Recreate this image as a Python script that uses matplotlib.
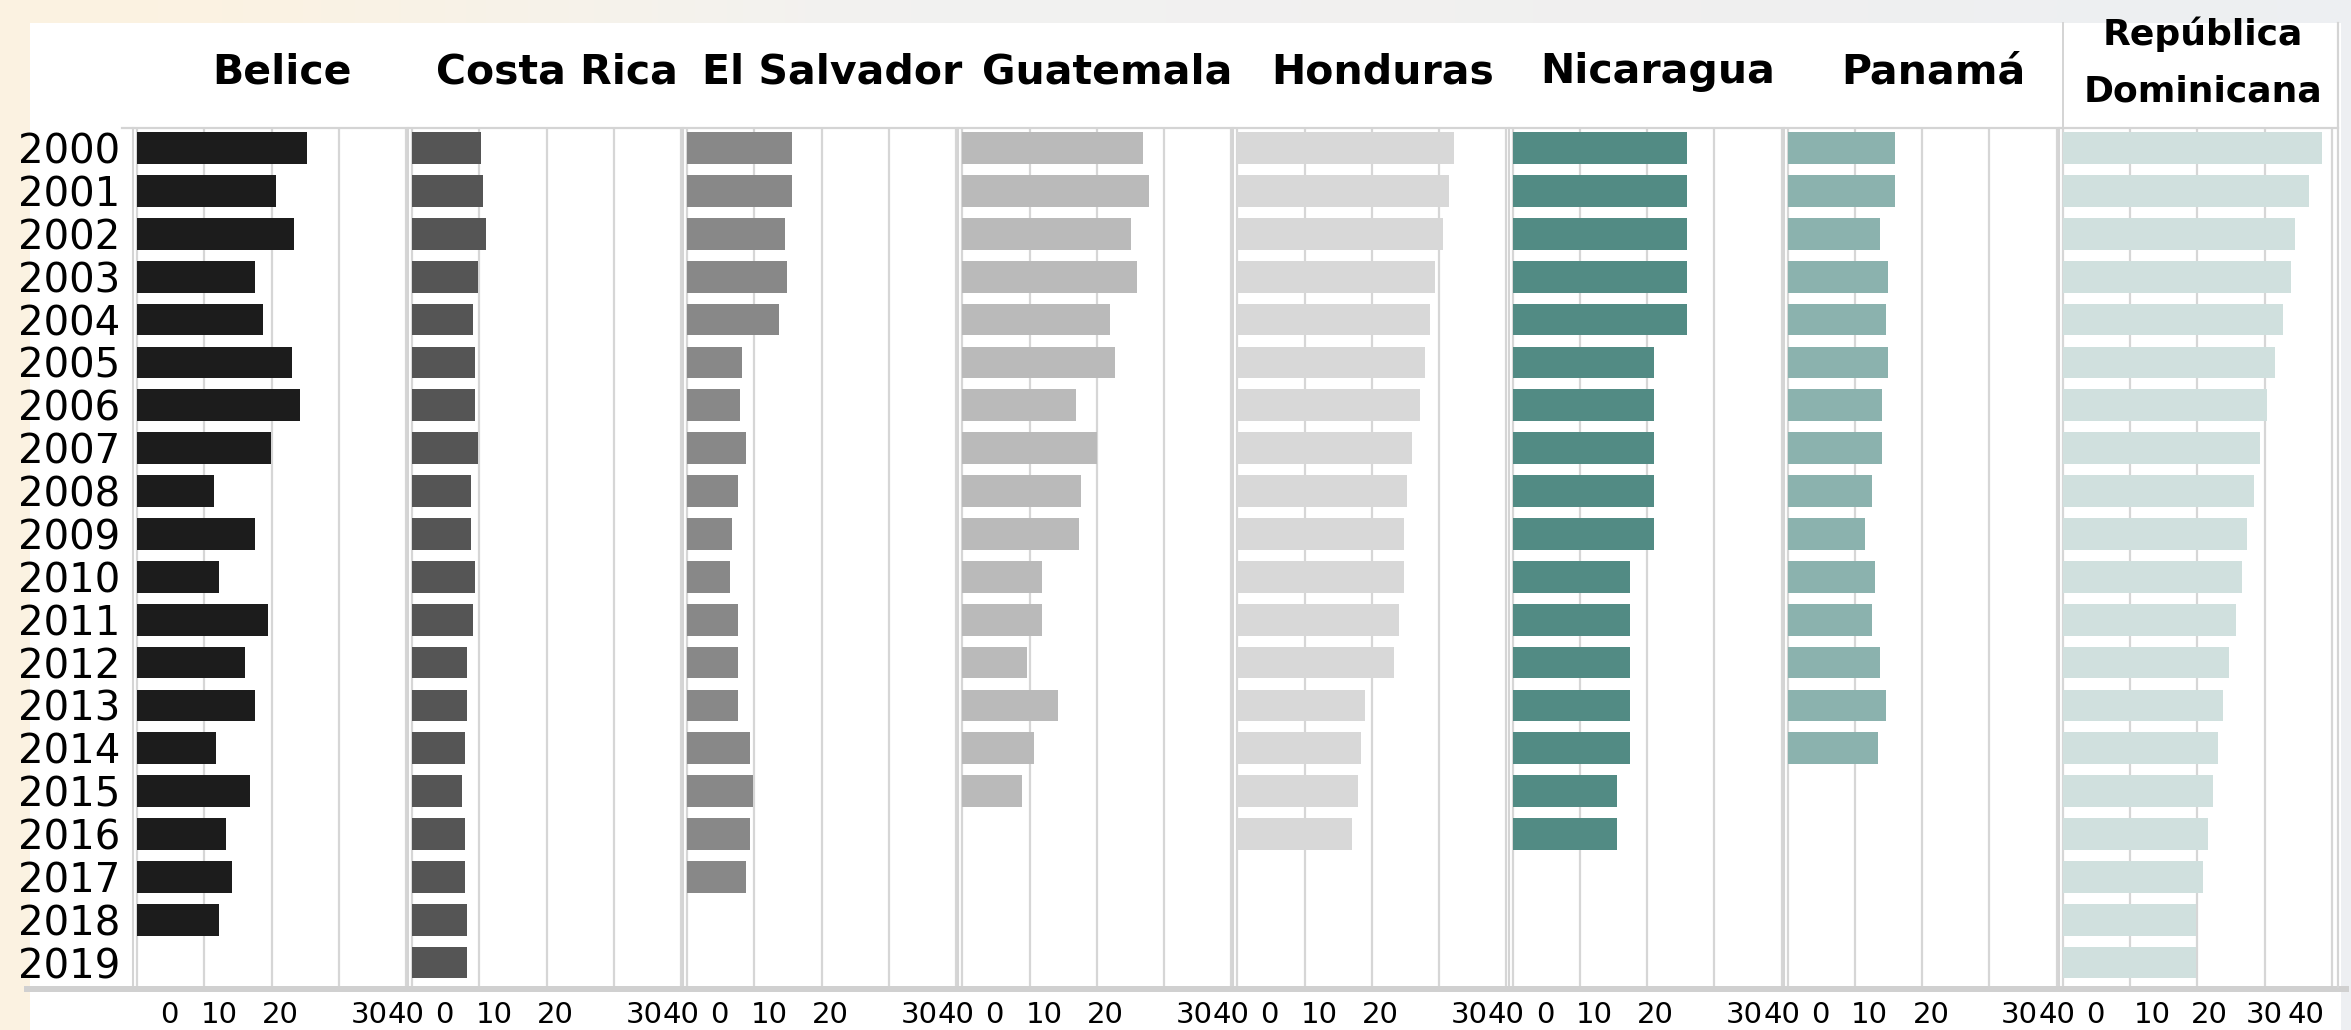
import numpy as np
import matplotlib.pyplot as plt
from matplotlib.lines import Line2D
from matplotlib.patches import Rectangle
from matplotlib.transforms import blended_transform_factory

years = [str(y) for y in range(2000, 2020)]
countries = ['Belice', 'Costa Rica', 'El Salvador', 'Guatemala',
             'Honduras', 'Nicaragua', 'Panamá', 'República\nDominicana']

# values per year starting in 2000, lists end where the series stops
belice = [25.3, 20.6, 23.4, 17.6, 18.8, 23.0, 24.2, 19.9, 11.4, 17.6,
          12.2, 19.5, 16.0, 17.6, 11.7, 16.8, 13.3, 14.1, 12.2]
costa_rica = [10.2, 10.5, 11.0, 9.8, 9.0, 9.4, 9.4, 9.8, 8.7, 8.7,
              9.4, 9.0, 8.2, 8.2, 7.9, 7.4, 7.9, 7.9, 8.2, 8.2]
el_salvador = [15.6, 15.6, 14.5, 14.8, 13.7, 8.2, 7.9, 8.7, 7.5, 6.7,
               6.3, 7.5, 7.5, 7.5, 9.4, 9.8, 9.4, 8.7]
guatemala = [26.9, 27.8, 25.1, 25.9, 21.9, 22.7, 16.9, 20.0, 17.7, 17.3,
             11.9, 11.9, 9.6, 14.2, 10.7, 8.8]
honduras = [32.2, 31.4, 30.6, 29.4, 28.6, 27.9, 27.1, 25.9, 25.2, 24.8,
            24.8, 24.0, 23.3, 19.0, 18.3, 17.9, 17.1]
nicaragua = [26.0, 26.0, 26.0, 26.0, 26.0, 21.0, 21.0, 21.0, 21.0, 21.0,
             17.5, 17.5, 17.5, 17.5, 17.5, 15.6, 15.6]
panama = [16.0, 16.0, 13.8, 14.9, 14.6, 14.9, 14.1, 14.1, 12.6, 11.5,
          13.0, 12.6, 13.8, 14.6, 13.4]
rep_dom = [38.5, 36.6, 34.6, 33.9, 32.7, 31.6, 30.4, 29.3, 28.5, 27.4,
           26.6, 25.8, 24.7, 23.9, 23.1, 22.3, 21.6, 20.8, 19.8, 19.8]

series = [belice, costa_rica, el_salvador, guatemala, honduras, nicaragua, panama, rep_dom]
colors = ['#1c1c1c', '#555555', '#888888', '#bababa',
          '#d8d8d8', '#528b84', '#8bb2ae', '#d0e0de']

grid_ticks = [0, 10, 20, 30, 40]
tick_text = ['0', '10', '20', '30', '40']
# the original's tick labels sit off the gridlines
label_pos = [4.8, 12.2, 21.3, 34.5, 40.0]
label_pos_last = [4.9, 13.3, 21.8, 30.0, 36.1]

W, H = 2351, 1030
fig = plt.figure(figsize=(W / 100, H / 100), dpi=100)

def fx(px):
    return px / W

def fy(py):
    return 1 - py / H

# faint photo-like backdrop around the white card
bg = fig.add_axes([0, 0, 1, 1])
grad = np.array([[[0.99, 0.95, 0.88], [0.94, 0.95, 0.96], [0.95, 0.94, 0.93], [0.93, 0.94, 0.95]]])
bg.imshow(grad, aspect='auto', extent=[0, 1, 0, 1], interpolation='bicubic')
bg.axis('off')
bg.set_zorder(-2)
fig.add_artist(Rectangle((fx(30), 0), fx(2341) - fx(30), fy(23), transform=fig.transFigure,
                         facecolor='white', edgecolor='none', zorder=-1))

top, bottom = 128, 987
step = 275.1
line_c = '#d4d4d4'

for i, vals in enumerate(series):
    left = 133 + step * i
    ax = fig.add_axes([fx(left), fy(bottom), step / W, (bottom - top) / H])
    ax.set_facecolor('none')
    ax.barh(np.arange(len(vals)), vals, height=0.74, color=colors[i], zorder=3)
    ax.set_xlim(-0.6, 40.3)
    ax.set_ylim(19.57, -0.47)
    for s in ['top', 'right', 'bottom']:
        ax.spines[s].set_visible(False)
    ax.spines['left'].set_color(line_c)
    ax.spines['left'].set_linewidth(1.5)

    ax.xaxis.remove_overlapping_locs = False
    ax.set_xticks(grid_ticks)
    ax.xaxis.grid(True, color='#d6d6d6', lw=1.6)
    ax.set_axisbelow(True)
    ax.set_xticks(label_pos_last if i == 7 else label_pos, minor=True)
    ax.set_xticklabels(tick_text, minor=True)
    ax.tick_params(axis='x', which='both', length=0)
    ax.tick_params(axis='x', which='major', labelbottom=False)
    ax.tick_params(axis='x', which='minor', labelsize=21, pad=10)

    if i == 0:
        ax.set_yticks(range(20))
        ax.set_yticklabels(years, fontsize=29)
        ax.tick_params(axis='y', length=0, pad=9)
    else:
        ax.set_yticks([])

    tr = blended_transform_factory(ax.transData, fig.transFigure)
    if i < 7:
        ax.text(21.6, fy(83), countries[i], transform=tr, ha='center', va='baseline',
                fontsize=29.5, fontweight='bold')
    else:
        name1, name2 = countries[i].split('\n')
        ax.text(20.8, fy(45), name1, transform=tr, ha='center', va='baseline',
                fontsize=26, fontweight='bold')
        ax.text(20.8, fy(102), name2, transform=tr, ha='center', va='baseline',
                fontsize=26, fontweight='bold')

# header rule, bottom rule and the card's separators
fig.add_artist(Line2D([fx(122), fx(2338)], [fy(128), fy(128)], transform=fig.transFigure,
                      color=line_c, lw=1.6))
fig.add_artist(Line2D([fx(27), fx(2346)], [fy(989), fy(989)], transform=fig.transFigure,
                      color='#d0d0d0', lw=4.3))
fig.add_artist(Line2D([fx(2063), fx(2063)], [fy(23), fy(128)], transform=fig.transFigure,
                      color=line_c, lw=1.4))
fig.add_artist(Line2D([fx(2338), fx(2338)], [fy(23), fy(987)], transform=fig.transFigure,
                      color=line_c, lw=1.6))

fig.savefig('out.png', dpi=100)
